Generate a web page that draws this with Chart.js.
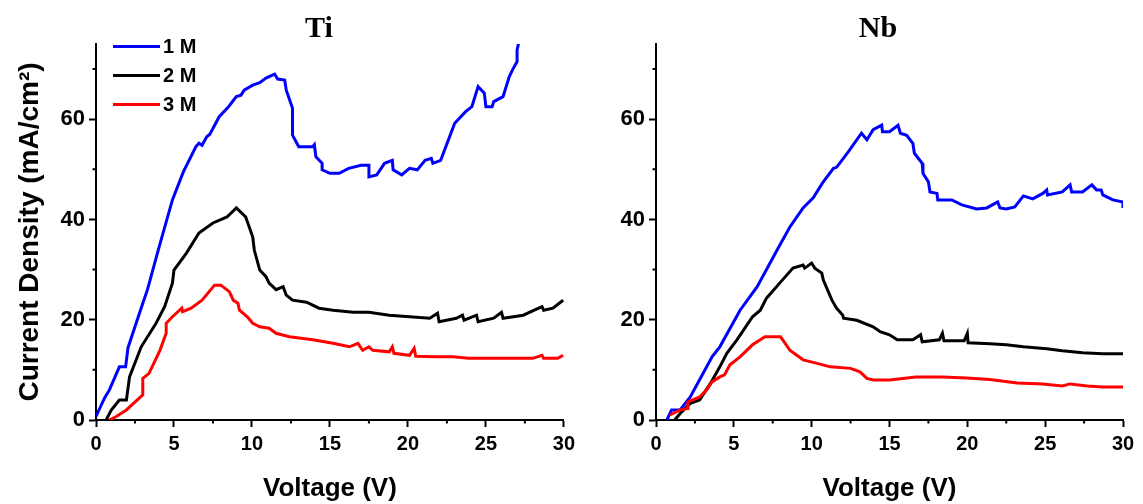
<!DOCTYPE html>
<html>
<head>
<meta charset="utf-8">
<title>Current density - Ti / Nb</title>
<script src="https://cdn.jsdelivr.net/npm/chart.js@4.4.1/dist/chart.umd.min.js"></script>
<style>
  html, body { margin: 0; padding: 0; background: #fff; }
  #wrap { position: relative; width: 1143px; height: 504px; }
  #tiChart { position: absolute; left: 0; top: 0; }
  #nbChart { position: absolute; left: 580px; top: 0; }
</style>
</head>
<body>
<div id="wrap">
  <canvas id="tiChart" width="580" height="504"></canvas>
  <canvas id="nbChart" width="563" height="504"></canvas>
</div>
<script>
/******************************************************/
/*    Datos (V, mA/cm2)            */
/******************************************************/

var seriesNombres = ["1 M", "2 M", "3 M"];
var seriesColores = ["#0000ff", "#000000", "#ff0000"];

// Ti
var tiV1 = [0, 0.55, 0.86, 1.5, 1.9, 2.05, 3.0, 3.3, 4.0, 4.9, 5.6, 6.4, 6.6, 6.8, 7.1, 7.3, 7.9, 8.5, 9.0, 9.3, 9.5, 10.05, 10.5, 10.9, 11.45, 11.65, 12.1, 12.2, 12.6, 12.6, 13.0, 13.9, 14.0, 14.1, 14.5, 14.5, 15.0, 15.6, 16.2, 17.0, 17.5, 17.5, 18.0, 18.5, 19.0, 19.05, 19.6, 20.1, 20.6, 21.1, 21.5, 21.6, 22.1, 23.0, 23.7, 24.1, 24.5, 24.9, 25.0, 25.4, 25.5, 26.1, 26.5, 26.7, 27.0, 27.0, 27.3];
var tiJ1 = [0.7, 4.4, 6, 10.6, 10.6, 14.4, 23.3, 26, 34, 43.9, 49.5, 54.5, 55.2, 54.8, 56.5, 57, 60.5, 62.5, 64.5, 64.8, 65.8, 66.8, 67.3, 68.2, 69, 68, 67.8, 65.8, 62.2, 56.8, 54.5, 54.5, 54.9, 52.5, 51.2, 49.9, 49.2, 49.2, 50.2, 50.8, 50.8, 48.5, 48.9, 51.2, 51.8, 49.9, 48.9, 50.2, 49.9, 51.8, 52.2, 51.2, 51.8, 59.2, 61.5, 62.5, 66.5, 65.2, 62.5, 62.5, 63.5, 64.5, 68.5, 69.8, 71.5, 73.8, 78];

var tiV2 = [0.65, 0.98, 1.5, 1.95, 2.15, 2.9, 3.85, 4.4, 4.9, 5.0, 5.8, 6.6, 7.5, 8.4, 9.0, 9.6, 10.05, 10.15, 10.5, 10.9, 11.1, 11.55, 12.0, 12.2, 12.6, 13.5, 14.3, 15.2, 16.5, 17.5, 18.8, 20.1, 21.4, 21.9, 22.0, 23.1, 23.5, 23.6, 24.4, 24.5, 25.5, 26.0, 26.1, 27.4, 28.1, 28.6, 28.7, 29.3, 29.95];
var tiJ2 = [0, 2, 4, 4, 8.6, 14.6, 19.3, 22.6, 27.3, 29.9, 33.3, 37.3, 39.3, 40.5, 42.3, 40.5, 36.5, 33.9, 29.9, 28.6, 27.3, 26, 26.6, 24.9, 23.9, 23.5, 22.3, 21.9, 21.5, 21.5, 20.9, 20.6, 20.3, 21.3, 19.6, 20.3, 20.9, 19.9, 20.9, 19.6, 20.3, 21.5, 20.3, 20.9, 21.9, 22.6, 21.9, 22.3, 23.9];

var tiV3 = [0.86, 1.3, 1.95, 3.0, 3.0, 3.4, 4.1, 4.5, 4.5, 4.9, 5.5, 5.55, 6.1, 6.8, 7.6, 8.0, 8.55, 8.8, 9.1, 9.2, 9.7, 10.05, 10.5, 11.1, 11.55, 12.4, 13.9, 15.2, 16.25, 16.8, 17.1, 17.5, 17.75, 18.8, 19.0, 19.1, 20.1, 20.4, 20.5, 21.8, 22.9, 23.9, 26.1, 28.0, 28.6, 28.7, 29.6, 29.95];
var tiJ3 = [0, 0.7, 2, 5, 8.3, 9.3, 13.9, 17.3, 19.3, 20.6, 22.3, 21.6, 22.3, 23.9, 26.9, 26.9, 25.6, 23.9, 23.3, 21.9, 20.6, 19.3, 18.6, 18.3, 17.3, 16.6, 16.0, 15.3, 14.6, 15.3, 13.9, 14.6, 13.9, 13.6, 14.6, 13.3, 12.9, 14.3, 12.7, 12.6, 12.6, 12.3, 12.3, 12.3, 12.9, 12.3, 12.3, 12.9];

// Nb
var nbV1 = [0.7, 1.0, 1.55, 2.2, 3.5, 3.6, 4.1, 5.4, 6.5, 7.85, 8.6, 9.45, 10.1, 10.7, 11.4, 11.6, 12.35, 13.2, 13.55, 13.95, 14.5, 14.55, 15.0, 15.55, 15.7, 16.1, 16.5, 16.6, 17.1, 17.15, 17.5, 17.6, 18.05, 18.1, 19.0, 19.65, 20.6, 21.25, 21.95, 22.1, 22.5, 23.05, 23.6, 24.2, 24.85, 25.1, 25.15, 26.1, 26.6, 26.7, 27.4, 28.0, 28.3, 28.6, 28.7, 29.35, 30.0, 30.0];
var nbJ1 = [0, 2, 2, 4.6, 12, 12.6, 14.6, 21.9, 26.6, 34.3, 38.5, 42.3, 44.3, 47.3, 50.2, 50.4, 53.5, 57.2, 55.9, 57.9, 58.8, 57.5, 57.5, 58.8, 57.2, 56.8, 55.2, 53.2, 51.2, 49.2, 47.5, 45.5, 45.2, 43.9, 43.9, 42.9, 42.1, 42.3, 43.5, 42.3, 42.1, 42.5, 44.7, 44.1, 45.2, 45.9, 44.9, 45.5, 46.9, 45.5, 45.5, 46.9, 45.9, 45.9, 44.9, 43.9, 43.5, 42.3];

var nbV2 = [1.2, 1.55, 2.2, 2.8, 3.5, 4.1, 4.55, 5.2, 6.2, 6.7, 7.1, 8.0, 8.8, 9.45, 9.55, 10.0, 10.2, 10.65, 10.75, 11.3, 11.6, 12.0, 12.05, 12.9, 13.95, 14.4, 15.0, 15.5, 16.5, 17.0, 17.1, 18.2, 18.4, 18.5, 19.8, 20.0, 20.05, 21.45, 22.5, 23.6, 25.1, 26.1, 27.4, 28.7, 30.0];
var nbJ2 = [0, 1.3, 3.3, 4, 7.3, 10.6, 13.3, 16.0, 20.6, 21.9, 24.3, 27.5, 30.3, 30.9, 30.3, 31.3, 30.3, 29.3, 27.9, 23.9, 22.3, 20.9, 20.3, 19.9, 18.6, 17.6, 17.0, 16.0, 16.0, 17.0, 15.6, 16.0, 17.3, 15.8, 15.8, 17.3, 15.4, 15.2, 15.0, 14.6, 14.2, 13.8, 13.4, 13.2, 13.2];

var nbV3 = [0.9, 1.55, 2.0, 2.05, 2.8, 3.25, 3.6, 4.1, 4.4, 4.75, 5.4, 6.2, 7.0, 8.0, 8.3, 8.6, 9.45, 10.35, 11.2, 12.5, 13.1, 13.55, 13.95, 15.0, 16.7, 18.4, 19.95, 21.45, 23.2, 24.85, 26.1, 26.6, 27.7, 28.7, 30.0];
var nbJ3 = [1.0, 2, 2.3, 3.6, 4.6, 6, 7.6, 8.6, 9, 11, 12.6, 15.0, 16.6, 16.6, 15.3, 13.9, 12, 11.3, 10.6, 10.3, 9.6, 8.3, 8.0, 8.0, 8.6, 8.6, 8.4, 8.1, 7.4, 7.2, 6.8, 7.2, 6.8, 6.6, 6.6];

// ejes
var ejeX = { min: 0, max: 30, paso: 2.5, etiquetaCada: 5 };
var ejeY = { min: 0, max: 75, paso: 10, etiquetaCada: 20 };

/******************************************************/
/*    Funciones auxiliares                            */
/******************************************************/

function puntos(vs, js){
    var pts = [];
    for(var i = 0; i < vs.length; i++){
        pts.push({ x: vs[i], y: js[i] });
    }
    return pts;
}

function armarDatasets(listaV, listaJ){
    var ds = [];
    for(var i = 0; i < listaV.length; i++){
        ds.push({
            label: seriesNombres[i],
            data: puntos(listaV[i], listaJ[i]),
            borderColor: seriesColores[i],
            backgroundColor: seriesColores[i],
            borderWidth: 3,
            pointRadius: 0,
            tension: 0,
            fill: false,
            order: 3 - i
        });
    }
    return ds;
}

// ticks menores mas cortos que los mayores
var ticksMenores = {
    id: "ticksMenores",
    afterDraw: function(chart){
        var ctx = chart.ctx;
        var sx = chart.scales.x, sy = chart.scales.y;
        ctx.save();
        ctx.strokeStyle = "#000";
        ctx.lineWidth = 2;
        ctx.beginPath();
        sx.ticks.forEach(function(t){
            if(t.value % ejeX.etiquetaCada !== 0){
                var px = sx.getPixelForValue(t.value);
                ctx.moveTo(px, sx.top);
                ctx.lineTo(px, sx.top + 3.5);
            }
        });
        sy.ticks.forEach(function(t){
            if(t.value % ejeY.etiquetaCada !== 0){
                var py = sy.getPixelForValue(t.value);
                ctx.moveTo(sy.right, py);
                ctx.lineTo(sy.right - 3.5, py);
            }
        });
        ctx.stroke();
        ctx.restore();
    }
};

// leyenda dentro del area del grafico
var leyenda = {
    id: "leyenda",
    afterDraw: function(chart, args, opts){
        if(!opts.display){ return; }
        var ctx = chart.ctx;
        ctx.save();
        ctx.font = opts.font;
        ctx.textBaseline = "middle";
        ctx.textAlign = "left";
        chart.data.datasets.forEach(function(ds, i){
            var y = opts.y + i * opts.gap;
            ctx.strokeStyle = ds.borderColor;
            ctx.lineWidth = 3;
            ctx.beginPath();
            ctx.moveTo(opts.x, y);
            ctx.lineTo(opts.x + opts.largo, y);
            ctx.stroke();
            ctx.fillStyle = "#000";
            ctx.fillText(ds.label, opts.x + opts.largo + 3, y + 1);
        });
        ctx.restore();
    }
};

// titulo del panel (Ti / Nb)
var tituloPanel = {
    id: "tituloPanel",
    afterDraw: function(chart, args, opts){
        var ctx = chart.ctx;
        ctx.save();
        ctx.font = "bold 30px 'Liberation Serif', 'Times New Roman', serif";
        ctx.fillStyle = "#000";
        ctx.textAlign = "center";
        ctx.textBaseline = "alphabetic";
        ctx.fillText(opts.texto, opts.x, opts.y);
        ctx.restore();
    }
};

function opcionesGrafica(conf){
    var fuenteTicksX = { family: "'Liberation Sans', Arial, sans-serif", size: 20, weight: "bold" };
    var fuenteTicksY = { family: "'Liberation Sans', Arial, sans-serif", size: 22, weight: "bold" };
    var fuenteTituloX = { family: "'Liberation Sans', Arial, sans-serif", size: 26, weight: "bold" };
    var fuenteTituloY = { family: "'Liberation Sans', Arial, sans-serif", size: 28, weight: "bold" };
    return {
        responsive: false,
        animation: false,
        layout: { padding: { top: 44, right: conf.padDerecha, bottom: 0, left: 0 } },
        plugins: {
            legend: { display: false },
            tooltip: { enabled: false },
            leyenda: { display: conf.leyenda, x: 113, y: 46.5, gap: 29, largo: 47,
                       font: "bold 20px 'Liberation Sans', Arial, sans-serif" },
            tituloPanel: { texto: conf.titulo, x: conf.tituloX, y: 37 }
        },
        scales: {
            x: {
                type: "linear",
                min: ejeX.min,
                max: ejeX.max,
                afterFit: function(s){ s.height = 84; },
                border: { display: true, color: "#000", width: 2 },
                grid: {
                    drawOnChartArea: false,
                    drawTicks: true,
                    tickLength: 7,
                    tickWidth: 2,
                    tickColor: function(c){
                        return (c.tick && c.tick.value % ejeX.etiquetaCada === 0) ? "#000" : "rgba(0,0,0,0)";
                    }
                },
                ticks: {
                    stepSize: ejeX.paso,
                    autoSkip: false,
                    maxRotation: 0,
                    padding: 5,
                    color: "#000",
                    font: fuenteTicksX,
                    callback: function(v){ return v % ejeX.etiquetaCada === 0 ? v : ""; }
                },
                title: {
                    display: true,
                    text: "Voltage (V)",
                    color: "#000",
                    font: fuenteTituloX,
                    padding: { top: 1, bottom: 0 }
                }
            },
            y: {
                type: "linear",
                min: ejeY.min,
                max: ejeY.max,
                afterFit: function(s){ s.width = conf.anchoEjeY; },
                border: { display: true, color: "#000", width: 2 },
                grid: {
                    drawOnChartArea: false,
                    drawTicks: true,
                    tickLength: 7,
                    tickWidth: 2,
                    tickColor: function(c){
                        return (c.tick && c.tick.value % ejeY.etiquetaCada === 0) ? "#000" : "rgba(0,0,0,0)";
                    }
                },
                ticks: {
                    stepSize: ejeY.paso,
                    includeBounds: false,
                    autoSkip: false,
                    padding: 4,
                    color: "#000",
                    font: fuenteTicksY,
                    callback: function(v){ return v % ejeY.etiquetaCada === 0 ? v : ""; }
                },
                title: {
                    display: conf.tituloY,
                    text: "Current Density (mA/cm\u00B2)",
                    color: "#000",
                    font: fuenteTituloY,
                    padding: { top: 13, bottom: 0 }
                }
            }
        }
    };
}

//-------------
//- GRAFICAS  -
//-------------
new Chart(document.getElementById("tiChart").getContext("2d"), {
    type: "line",
    data: { datasets: armarDatasets([tiV1, tiV2, tiV3], [tiJ1, tiJ2, tiJ3]) },
    options: opcionesGrafica({ padDerecha: 15, anchoEjeY: 96, tituloY: true, leyenda: true, titulo: "Ti", tituloX: 319 }),
    plugins: [ticksMenores, leyenda, tituloPanel]
});

new Chart(document.getElementById("nbChart").getContext("2d"), {
    type: "line",
    data: { datasets: armarDatasets([nbV1, nbV2, nbV3], [nbJ1, nbJ2, nbJ3]) },
    options: opcionesGrafica({ padDerecha: 20, anchoEjeY: 76, tituloY: false, leyenda: false, titulo: "Nb", tituloX: 298 }),
    plugins: [ticksMenores, leyenda, tituloPanel]
});
</script>
</body>
</html>
